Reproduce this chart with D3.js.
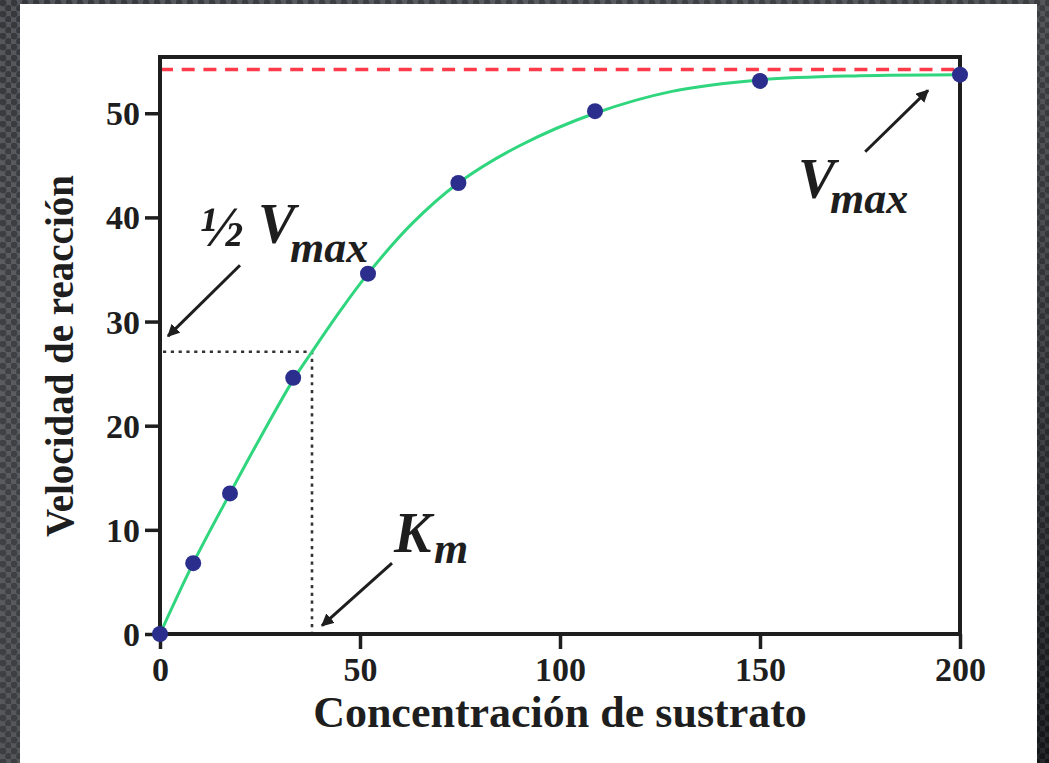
<!DOCTYPE html>
<head>
  <meta charset="utf-8">
  <script src="https://d3js.org/d3.v7.min.js"></script>
  <style>
    body { margin: 0; background: #3a3d42; }
    svg { display: block; }
  </style>
</head>
<body>
  <script>
    // measured data points (substrate concentration vs reaction velocity)
    var substrate = [0, 8.3, 17.5, 33.3, 52, 74.6, 108.75, 150, 200];
    var velocity = [0, 6.8, 13.5, 24.6, 34.6, 43.3, 50.2, 53.1, 53.7];

    // fitted curve
    var curveX = [0, 8.3, 17.5, 25, 33.3, 38, 45, 52, 63, 74.6, 90, 108.75, 128, 150, 175, 200];
    var curveY = [0, 6.8, 13.5, 18.8, 24.4, 27.1, 31.0, 34.6, 39.4, 43.3, 46.9, 50.0, 52.1, 53.2, 53.6, 53.7];

    // reference values
    var vmax = 54.2;
    var km = 38;

    var xTicks = [0, 50, 100, 150, 200];
    var yTicks = [0, 10, 20, 30, 40, 50];
    var xTitle = 'Concentración de sustrato';
    var yTitle = 'Velocidad de reacción';

    var outerWidth = 1049,
      outerHeight = 763;

    var margin = { top: 57, left: 160, right: 89, bottom: 129 };
    var width = outerWidth - margin.left - margin.right,
      height = outerHeight - margin.top - margin.bottom;

    var xScale = d3.scaleLinear().domain([0, 200]).range([0, width]);
    var yScale = d3.scaleLinear().domain([0, 55.4]).range([height, 0]);

    var serif = "'Liberation Serif', 'Times New Roman', serif";
    var ink = '#1e1e1e';

    var root = d3.select('body').append('svg')
      .attr('width', outerWidth)
      .attr('height', outerHeight);

    // dotted slide background
    var defs = root.append('defs');
    var pat = defs.append('pattern')
      .attr('id', 'dots')
      .attr('width', 11).attr('height', 11)
      .attr('patternUnits', 'userSpaceOnUse');
    pat.append('rect').attr('width', 11).attr('height', 11).attr('fill', '#44474d');
    pat.append('circle').attr('cx', 3).attr('cy', 3).attr('r', 3.4).attr('fill', '#24262a');
    pat.append('circle').attr('cx', 8.5).attr('cy', 8.5).attr('r', 3.4).attr('fill', '#24262a');

    var shade = defs.append('linearGradient').attr('id', 'shade')
      .attr('x1', 0).attr('y1', 0).attr('x2', 1).attr('y2', 1);
    shade.append('stop').attr('offset', '0%').attr('stop-color', '#fff').attr('stop-opacity', 0.08);
    shade.append('stop').attr('offset', '100%').attr('stop-color', '#000').attr('stop-opacity', 0.45);

    defs.append('marker')
      .attr('id', 'head')
      .attr('viewBox', '0 0 10 10')
      .attr('refX', 9).attr('refY', 5)
      .attr('markerWidth', 4.2).attr('markerHeight', 4.2)
      .attr('markerUnits', 'strokeWidth')
      .attr('orient', 'auto')
      .append('path')
      .attr('d', 'M0,0 L10,5 L0,10 Z')
      .attr('fill', ink);

    root.append('rect').attr('width', outerWidth).attr('height', outerHeight).attr('fill', 'url(#dots)');
    root.append('rect').attr('width', outerWidth).attr('height', outerHeight).attr('fill', 'url(#shade)');

    // white slide panel
    root.append('rect')
      .attr('x', 20).attr('y', 4)
      .attr('width', 1017).attr('height', outerHeight - 4)
      .attr('fill', '#fff');

    var svg = root.append('g')
      .attr('transform', 'translate(' + margin.left + ' ' + margin.top + ')');

    // vmax reference line
    svg.append('line')
      .attr('x1', xScale(0)).attr('x2', xScale(200))
      .attr('y1', yScale(vmax)).attr('y2', yScale(vmax))
      .attr('stroke', '#ff3b4a')
      .attr('stroke-width', 3.5)
      .attr('stroke-dasharray', '13,8.7');

    // km guide lines
    svg.append('path')
      .attr('d', 'M' + (xScale(0) + 3) + ',' + yScale(vmax / 2) + 'H' + xScale(km) + 'V' + yScale(0))
      .attr('fill', 'none')
      .attr('stroke', '#333')
      .attr('stroke-width', 2.6)
      .attr('stroke-dasharray', '3.2,4.6');

    // axes
    var xAxis = svg.append('g')
      .attr('transform', 'translate(0,' + height + ')')
      .call(d3.axisBottom(xScale).tickValues(xTicks).tickSize(15).tickPadding(6));
    var yAxis = svg.append('g')
      .call(d3.axisLeft(yScale).tickValues(yTicks).tickSize(15).tickPadding(5));

    [xAxis, yAxis].forEach(function(ax) {
      ax.select('.domain').remove();
      ax.selectAll('.tick line').attr('stroke', ink).attr('stroke-width', 3.5);
      ax.selectAll('.tick text')
        .attr('fill', ink)
        .style('font-family', serif)
        .style('font-weight', 'bold')
        .style('font-size', '34px');
    });
    yAxis.selectAll('.tick text').attr('dy', '0.34em');
    xAxis.selectAll('.tick text').attr('dy', '0.75em');

    // frame
    svg.append('rect')
      .attr('x', 0).attr('y', 0)
      .attr('width', width).attr('height', height)
      .attr('fill', 'none')
      .attr('stroke', ink)
      .attr('stroke-width', 4);

    // fitted curve
    var line = d3.line()
      .x(function(d) { return xScale(d[0]); })
      .y(function(d) { return yScale(d[1]); })
      .curve(d3.curveCatmullRom.alpha(0.5));

    svg.append('path')
      .datum(d3.zip(curveX, curveY))
      .attr('d', line)
      .attr('fill', 'none')
      .attr('stroke', '#2fd67e')
      .attr('stroke-width', 3);

    // data points
    svg.selectAll('circle.pt')
      .data(d3.zip(substrate, velocity))
      .enter().append('circle')
      .attr('class', 'pt')
      .attr('cx', function(d) { return xScale(d[0]); })
      .attr('cy', function(d) { return yScale(d[1]); })
      .attr('r', 8)
      .attr('fill', '#2b2e8c');

    // annotations: arrows
    var arrows = [
      { from: [20, 35.4], to: [2, 28.6] },
      { from: [58, 6.8], to: [40.5, 0.8] },
      { from: [176.3, 46.3], to: [192, 52.2] }
    ];
    arrows.forEach(function(a) {
      svg.append('line')
        .attr('x1', xScale(a.from[0])).attr('y1', yScale(a.from[1]))
        .attr('x2', xScale(a.to[0])).attr('y2', yScale(a.to[1]))
        .attr('stroke', ink)
        .attr('stroke-width', 3)
        .attr('marker-end', 'url(#head)');
    });

    // annotation labels
    function label(txt, x, y, size) {
      svg.append('text')
        .attr('x', xScale(x)).attr('y', yScale(y))
        .attr('fill', ink)
        .style('font-family', serif)
        .style('font-weight', 'bold')
        .style('font-style', 'italic')
        .style('font-size', size + 'px')
        .text(txt);
    }
    label('½', 10, 37.3, 58);
    label('V', 24.5, 37.5, 56);
    label('max', 32.5, 35.7, 44);
    label('K', 58.5, 7.9, 56);
    label('m', 68.5, 6.8, 44);
    label('V', 159.5, 41.9, 56);
    label('max', 167.5, 40.4, 44);

    // axis titles
    svg.append('text')
      .attr('x', width / 2)
      .attr('y', height + 93)
      .attr('text-anchor', 'middle')
      .attr('fill', ink)
      .style('font-family', serif)
      .style('font-weight', 'bold')
      .style('font-size', '44px')
      .text(xTitle);

    svg.append('text')
      .attr('transform', 'translate(' + (-87) + ',' + (356 - margin.top) + ') rotate(-90)')
      .attr('text-anchor', 'middle')
      .attr('fill', ink)
      .style('font-family', serif)
      .style('font-weight', 'bold')
      .style('font-size', '39px')
      .text(yTitle);
  </script>
</body>
